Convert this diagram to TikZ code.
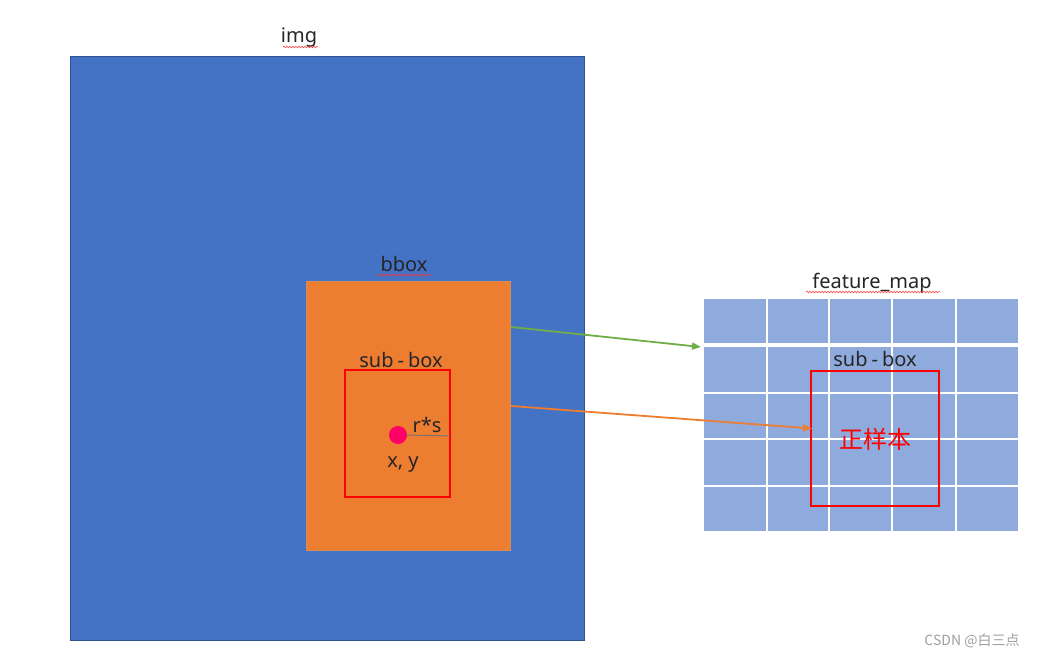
\documentclass[tikz,border=0pt]{standalone}
\usepackage{fontspec}
\setmainfont{Noto Sans}
\newfontfamily\cjk{Noto Sans CJK SC}
\usetikzlibrary{arrows.meta,decorations.pathmorphing,calc}
\definecolor{imgblue}{HTML}{4472C4}
\definecolor{imgborder}{HTML}{2F528F}
\definecolor{boxorange}{HTML}{ED7D31}
\definecolor{boxborder}{HTML}{C55A11}
\definecolor{cellblue}{HTML}{8FAADC}
\definecolor{arrgreen}{HTML}{70AD47}
\definecolor{dotpink}{HTML}{FF0066}
\definecolor{wmgrey}{HTML}{A0A0A0}
\definecolor{txt}{HTML}{262626}
\newcommand{\hy}{\hspace{4pt}-\hspace{4pt}}
\begin{document}
\begin{tikzpicture}[x=1pt,y=-1pt,
  rectbox/.style={inner sep=0pt,outer sep=0pt,anchor=north west},
  lbl/.style={inner sep=0pt,font=\fontsize{20}{24}\selectfont,text=txt},
  redbox/.style={rectbox,draw=red,line width=1.1pt},
  wavy/.style={draw=red!80,line width=0.5pt,decorate,decoration={snake,amplitude=0.9pt,segment length=3pt}},
  arr/.style={line width=1.8pt,-{Triangle[length=9pt,width=7pt]}}
]
\useasboundingbox (0,0) rectangle (1038,658);
\fill[white] (0,0) rectangle (1038,658);
% image
\node[rectbox,fill=imgblue,draw=imgborder,line width=0.6pt,minimum width=514pt,minimum height=584pt] (img) at (70,56) {};
\node[lbl] (imglbl) at (299,38) {img};
\draw[wavy] (283,47) -- (318,47);
% bbox
\node[rectbox,fill=boxorange,draw=boxborder!70,line width=0.6pt,minimum width=204pt,minimum height=269pt] (bbox) at (306,281) {};
\node[lbl] (bboxlbl) at (404,264) {bbox};
\draw[wavy] (377,275) -- (431,275);
% sub-box in image
\node[redbox,minimum width=105pt,minimum height=127pt] (sub) at (345,370) {};
\node[lbl] (sublbl) at (401,360) {sub\hy box};
\node[circle,fill=dotpink,inner sep=0pt,minimum size=18pt] (dot) at (398,435) {};
\coordinate (rend) at (450,436);
\draw[draw=gray!90!black,line width=1pt] (dot.east) -- (rend);
\node[lbl] (rs) at (427,425) {r*s};
\node[lbl] (xy) at (403,465) {x, y};
% feature map
\node[rectbox,fill=cellblue,minimum width=314pt,minimum height=232pt] (fmap) at (704,299) {};
\foreach \x in {767,829,892,956} {
  \draw[white,line width=1.6pt] (\x,299) -- (\x,531);
}
\draw[white,line width=4pt] (704,345) -- (1018,345);
\foreach \y in {393,439,486} {
  \draw[white,line width=1.6pt] (704,\y) -- (1018,\y);
}
\node[lbl] (fmaplbl) at (872,283) {feature\_map};
\draw[wavy] (806,292) -- (940,292);
\node[redbox,line width=1.25pt,minimum width=128pt,minimum height=135pt] (fsub) at (811,371) {};
\node[lbl] (fsublbl) at (875,359) {sub\hy box};
\node[inner sep=0pt,font=\cjk\fontsize{24}{28}\selectfont,text=red] (pos) at (875,439) {正样本};
% arrows
\coordinate (gstart) at ($(bbox.north east)+(1,46)$);
\coordinate (gend) at (701,347);
\draw[arr,draw=arrgreen] (gstart) -- (gend);
\coordinate (ostart) at ($(bbox.north east)+(1,125)$);
\coordinate (oend) at ($(fsub.west)+(1,-10)$);
\draw[arr,draw=boxorange] (ostart) -- (oend);
% watermark
\node[inner sep=0pt,font=\cjk\fontsize{14}{16}\selectfont,text=wmgrey] (wm) at (972,641) {CSDN @白三点};
\end{tikzpicture}
\end{document}
